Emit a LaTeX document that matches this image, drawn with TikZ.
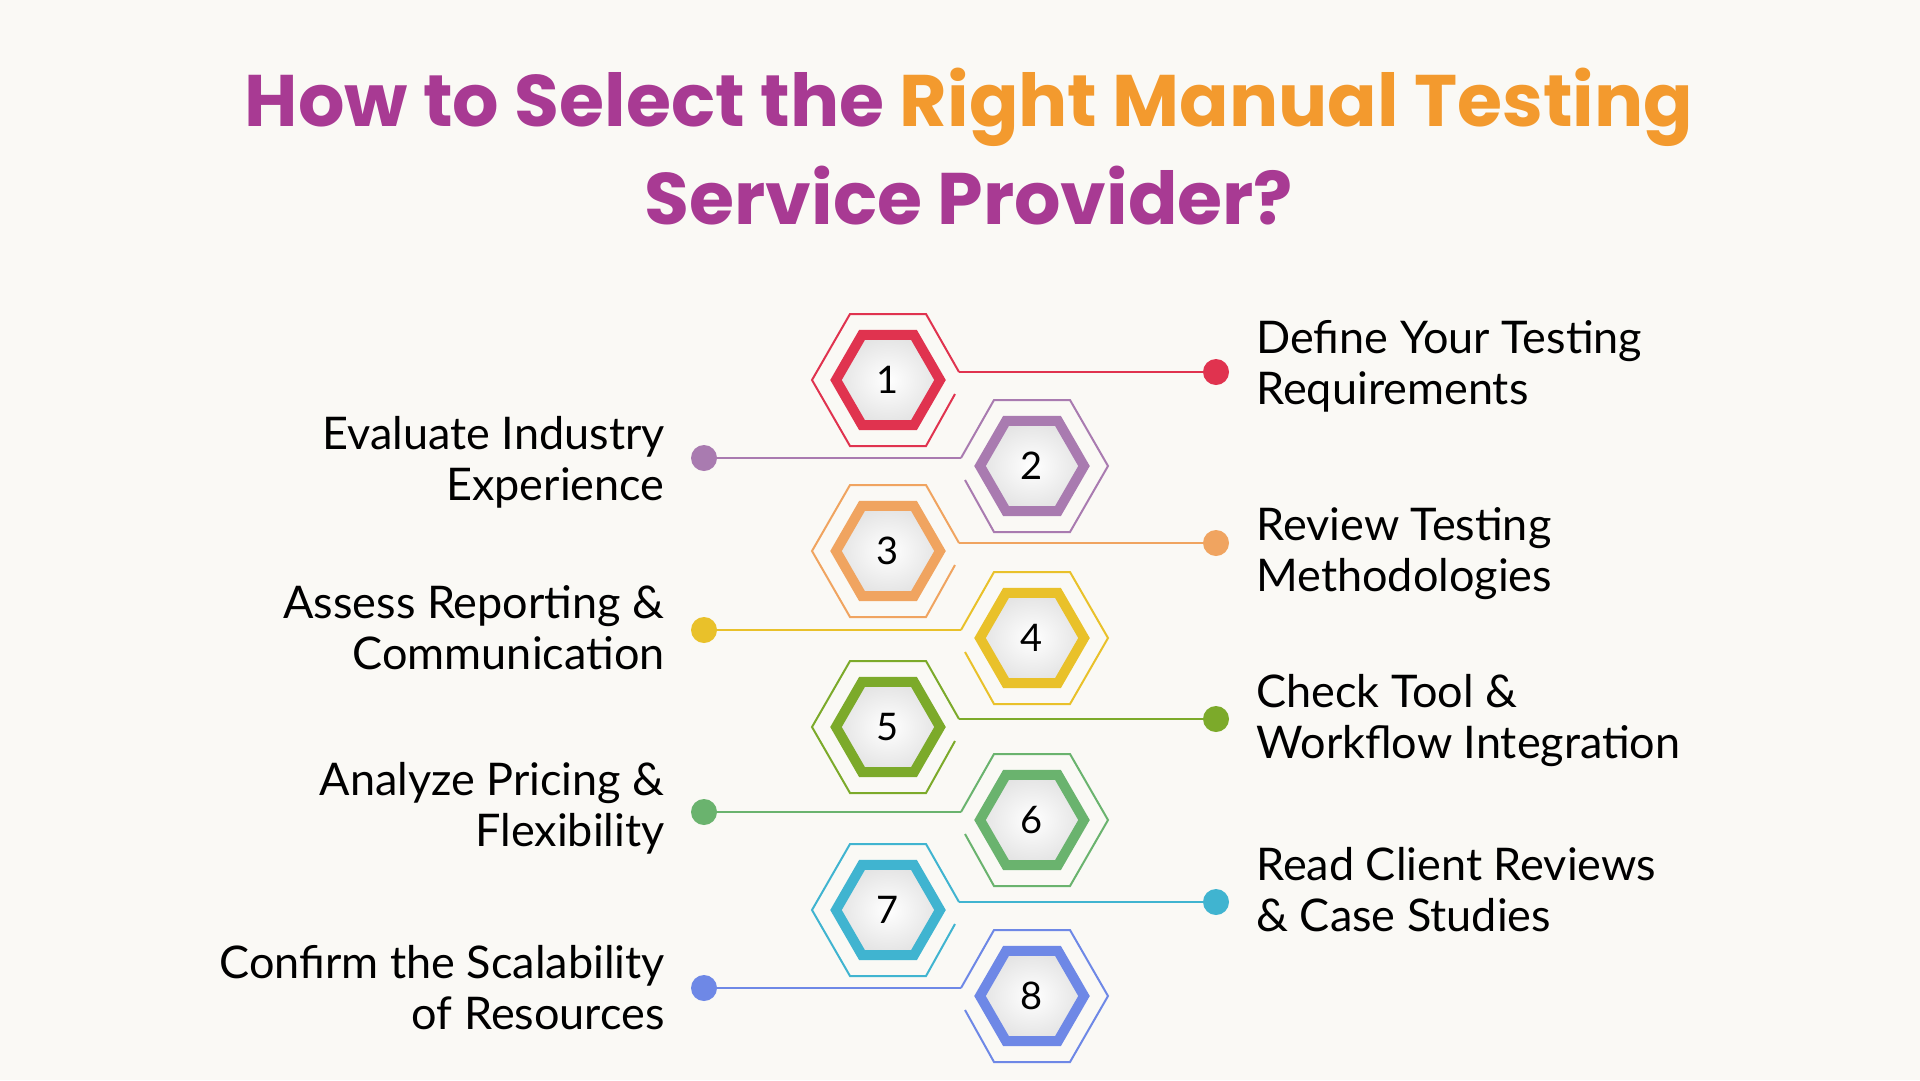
\documentclass[tikz,border=0pt]{standalone}
\usepackage{fontspec}
\setmainfont{Lato}
\newfontfamily\titlefont{Poppins}
\usetikzlibrary{positioning}
\usetikzlibrary{shapes}
\definecolor{paper}{HTML}{FAF9F5}
\definecolor{cTitle}{HTML}{A83A93}
\definecolor{cOrange}{HTML}{F39A2E}
\definecolor{cRed}{HTML}{E0334F}
\definecolor{cPurple}{HTML}{A97BB0}
\definecolor{cApricot}{HTML}{F0A460}
\definecolor{cYellow}{HTML}{E9C12A}
\definecolor{cLime}{HTML}{7CAA2A}
\definecolor{cGreen}{HTML}{6AB36E}
\definecolor{cCyan}{HTML}{40B4D0}
\definecolor{cBlue}{HTML}{6E88E6}
\tikzset{hexring/.style={regular polygon, regular polygon sides=6, minimum size=104pt, inner sep=0, line width=10pt, draw=#1, shading=radial, inner color=white, outer color=gray!22, font=\fontsize{38}{40}\selectfont}}
\tikzset{outline/.style={line width=2pt, line join=miter}}
\tikzset{dot/.style={circle, fill=#1, minimum size=26pt, inner sep=0}}
\tikzset{item/.style={text=black, font=\fontsize{45}{51}\selectfont, inner sep=0}}

\begin{document}
\begin{tikzpicture}[x=1pt,y=-1pt]
\useasboundingbox[fill=paper] (0,0) rectangle (1920,1080);

\node[font=\titlefont\bfseries\fontsize{73}{98}\selectfont, text=cTitle, align=center] (title) at (969,147)
  {How to Select the {\color{cOrange}Right Manual Testing}\\Service Provider?};

\foreach \n/\cx/\cy/\col/\s in {1/888/380/cRed/1, 2/1032/466/cPurple/-1, 3/888/551/cApricot/1, 4/1032/638/cYellow/-1,
  5/888/727/cLime/1, 6/1032/820/cGreen/-1, 7/888/910/cCyan/1, 8/1032/996/cBlue/-1} {
  \node[hexring=\col] (hex\n) at (\cx,\cy) {\n};
  \draw[outline,\col] ({\cx+\s*71},{\cy-8}) coordinate (tap\n) -- ({\cx+\s*38},{\cy-66}) -- ({\cx-\s*38},{\cy-66})
    -- ({\cx-\s*76},\cy) -- ({\cx-\s*38},{\cy+66}) -- ({\cx+\s*38},{\cy+66}) -- ({\cx+\s*67},{\cy+14});
  \node[dot=\col] (dot\n) at ({960+\s*256},{\cy-8}) {};
  \draw[outline,\col] (tap\n) -- (dot\n);
}

% right side
\node[item, anchor=west, align=left] (req) at ([xshift=27pt,yshift=6pt]dot1.east) {Define Your Testing\\Requirements};
\node[item, anchor=west, align=left] (method) at ([xshift=27pt,yshift=-11pt]dot3.east) {Review Testing\\Methodologies};
\node[item, anchor=west, align=left] (tool) at ([xshift=27pt,yshift=-2pt]dot5.east) {Check Tool \&\\Workflow Integration};
\node[item, anchor=west, align=left] (reviews) at ([xshift=27pt,yshift=12pt]dot7.east) {Read Client Reviews\\\& Case Studies};
% left side
\node[item, anchor=east, align=right] (industry) at ([xshift=-26pt,yshift=-4pt]dot2.west) {Evaluate Industry\\Experience};
\node[item, anchor=east, align=right] (report) at ([xshift=-26pt,yshift=2pt]dot4.west) {Assess Reporting \&\\Communication};
\node[item, anchor=east, align=right] (pricing) at ([xshift=-26pt,yshift=4pt]dot6.west) {Analyze Pricing \&\\Flexibility};
\node[item, anchor=east, align=right] (scale) at ([xshift=-26pt]dot8.west) {Confirm the Scalability\\of Resources};

\end{tikzpicture}
\end{document}
